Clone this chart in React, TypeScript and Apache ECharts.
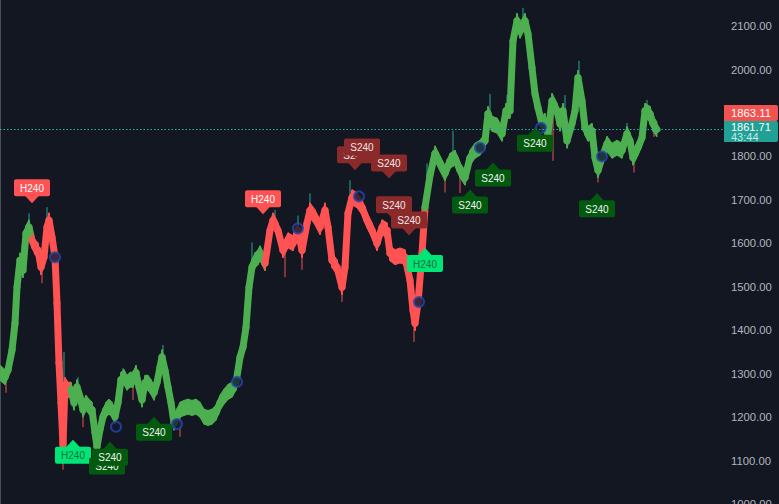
import React, { useEffect, useRef } from "react";
import * as echarts from "echarts";

// ---- data ----
const barIndex = [
  0, 5, 8, 12, 15, 17, 20, 23, 26, 29, 32, 35, 38, 41, 44, 47, 49, 52, 55, 57, 59, 61, 63, 65, 68, 71, 74, 77, 80, 83,
  86, 89, 92, 95, 97, 100, 103, 106, 109, 112, 115, 118, 121, 124, 127, 130, 133, 136, 139, 142, 145, 148, 151, 154,
  157, 160, 162, 165, 168, 171, 174, 177, 180, 184, 188, 192, 196, 200, 204, 208, 212, 216, 220, 224, 228, 232, 236,
  240, 243, 246, 249, 252, 255, 258, 260, 265, 270, 273, 278, 283, 288, 293, 298, 302, 307, 310, 315, 320, 325, 328,
  332, 337, 342, 345, 348, 352, 357, 362, 367, 372, 377, 382, 387, 390, 395, 400, 405, 410, 413, 415, 418, 422, 425,
  430, 435, 440, 445, 450, 455, 460, 465, 470, 475, 480, 485, 488, 492, 497, 502, 506, 510, 513, 517, 520, 525, 528,
  532, 535, 538, 542, 545, 548, 552, 557, 560, 563, 567, 572, 575, 578, 582, 585, 588, 592, 595, 598, 602, 607, 612,
  617, 622, 627, 630, 633, 638, 642, 645, 650, 653, 657,
];
const closes = [
  1302, 1292, 1308, 1354, 1416, 1499, 1561, 1538, 1623, 1637, 1607, 1591, 1584, 1545, 1568, 1637, 1653, 1614, 1568,
  1462, 1325, 1233, 1136, 1274, 1263, 1263, 1233, 1269, 1247, 1217, 1233, 1224, 1217, 1164, 1132, 1171, 1201, 1217,
  1224, 1217, 1201, 1233, 1286, 1292, 1279, 1286, 1286, 1302, 1269, 1240, 1279, 1279, 1269, 1256, 1279, 1315, 1338,
  1308, 1269, 1233, 1187, 1201, 1217, 1221, 1224, 1221, 1224, 1217, 1201, 1198, 1201, 1210, 1233, 1247, 1258, 1263,
  1279, 1338, 1361, 1407, 1499, 1545, 1561, 1568, 1577, 1554, 1630, 1653, 1630, 1584, 1607, 1600, 1630, 1584, 1646,
  1676, 1660, 1637, 1676, 1637, 1561, 1545, 1499, 1545, 1669, 1706, 1699, 1683, 1653, 1630, 1600, 1637, 1630, 1577,
  1568, 1572, 1568, 1515, 1446, 1416, 1462, 1577, 1683, 1756, 1807, 1784, 1761, 1790, 1797, 1768, 1751, 1797, 1813,
  1820, 1836, 1898, 1875, 1871, 1852, 1905, 1905, 2066, 2112, 2089, 2112, 2082, 2004, 1944, 1912, 1875, 1882, 1852,
  1928, 1905, 1875, 1905, 1836, 1875, 1905, 1981, 1928, 1866, 1852, 1859, 1797, 1768, 1797, 1829, 1813, 1820, 1813,
  1852, 1836, 1797, 1820, 1843, 1905, 1898, 1875, 1862,
];
// bar indices where the trend colour flips (starts green)
const trendBreaks = [31, 70, 263, 425];

// wicks: bar, from, to, direction (1 = up wick, 0 = down wick)
const wickBar = [
  22, 29, 47, 64, 78, 110, 123, 163, 188, 252, 275, 298, 310, 350, 427, 453, 490, 507, 523, 565, 579, 627, 647,
  6, 42, 63, 83, 133, 180, 210, 285, 302, 342, 414, 445, 460, 553, 598, 634, 654,
];
const wickFrom = [
  1550, 1637, 1637, 1263, 1263, 1217, 1290, 1331, 1224, 1545, 1653, 1630, 1676, 1688, 1722, 1795, 1887, 1905, 2107,
  1905, 1962, 1852, 1905,
  1292, 1550, 1136, 1217, 1279, 1217, 1201, 1584, 1584, 1499, 1428, 1761, 1764, 1917, 1768, 1802, 1875,
];
const wickTo = [
  1595, 1669, 1683, 1350, 1292, 1239, 1313, 1366, 1242, 1602, 1677, 1664, 1715, 1745, 1784, 1859, 1944, 1941, 2142,
  1941, 2020, 1877, 1930,
  1256, 1508, 1079, 1177, 1239, 1155, 1187, 1522, 1539, 1465, 1373, 1717, 1716, 1790, 1740, 1763, 1845,
];
const wickDir = [
  1, 1, 1, 1, 1, 1, 1, 1, 1, 1, 1, 1, 1, 1, 1, 1, 1, 1, 1, 1, 1, 1, 1,
  0, 0, 0, 0, 0, 0, 0, 0, 0, 0, 0, 0, 0, 0, 0, 0, 0,
];

// session circles
const pivotBar = [55, 116, 177, 237, 298, 359, 419, 480, 541, 602];
const pivotPrice = [1568, 1178, 1184, 1281, 1634, 1708, 1465, 1820, 1866, 1800];

// signal labels (tip position)
const signalBar = [32, 263, 355, 362, 389, 394, 409, 73, 107, 110, 154, 425, 470, 493, 535, 597];
const signalPrice = [1692, 1667, 1768, 1786, 1749, 1653, 1618, 1148, 1123, 1143, 1201, 1589, 1724, 1786, 1866, 1715];
const signalText = ["H240", "H240", "S240", "S240", "S240", "S240", "S240", "H240", "S240", "S240", "S240", "H240", "S240", "S240", "S240", "S240"];
const signalKind = ["hTop", "hTop", "sTop", "sTop", "sTop", "sTop", "sTop", "hBot", "sBot", "sBot", "sBot", "hBot", "sBot", "sBot", "sBot", "sBot"];

const lastPrice = 1861.71;
const refPrice = 1863.11;
const countdown = "43:44";
const yMin = 1000;
const yMax = 2160;
const yStep = 100;
const xMax = 724;

const UP = "#4caf50";
const DOWN = "#ff5252";
const BG = "#131722";

const kindStyle: Record<string, { fill: string; text: string; top: boolean }> = {
  hTop: { fill: "#ff5252", text: "#ffffff", top: true },
  sTop: { fill: "#8a2a2a", text: "#f3e6e6", top: true },
  hBot: { fill: "#00e676", text: "#1a6b40", top: false },
  sBot: { fill: "#035a0e", text: "#f0f5f0", top: false },
};

function trendColor(x: number) {
  let n = 0;
  for (const b of trendBreaks) if (x >= b) n++;
  return n % 2 === 0 ? UP : DOWN;
}

export default function App() {
  const ref = useRef<HTMLDivElement>(null);
  useEffect(() => {
    document.body.style.margin = "0";
    document.body.style.background = BG;
    const chart = echarts.init(ref.current!, null, { renderer: "svg" });
    const HALF = 7.5;
    const option: any = {
      animation: false,
      backgroundColor: BG,
      grid: { left: 0, right: 55, top: 0, bottom: 0, containLabel: false, outerBoundsMode: "none" },
      xAxis: { type: "value", min: 0, max: xMax, show: false },
      yAxis: {
        type: "value",
        position: "right",
        min: yMin,
        max: yMax,
        interval: yStep,
        axisLine: { show: true, lineStyle: { color: "#4a4e59", width: 1 } },
        axisTick: { show: false },
        splitLine: { show: false },
        axisLabel: {
          color: "#b2b5be",
          fontSize: 11.3,
          fontFamily: "Liberation Sans",
          margin: 7,
          showMaxLabel: false,
          formatter: (v: number) => v.toFixed(2),
        },
      },
      series: [
        {
          type: "custom",
          name: "wicks",
          z: 2,
          data: wickBar.map((b, i) => [b, wickFrom[i], wickTo[i], wickDir[i]]),
          encode: { x: 0, y: [1, 2] },
          renderItem: (_p: any, api: any) => {
            const a = api.coord([api.value(0), api.value(1)]);
            const b = api.coord([api.value(0), api.value(2)]);
            return {
              type: "line",
              shape: { x1: a[0], y1: a[1], x2: b[0], y2: b[1] },
              style: { stroke: api.value(3) === 1 ? "#26a69a" : "#ef5350", lineWidth: 1 },
            };
          },
        },
        {
          type: "custom",
          name: "price",
          z: 3,
          data: barIndex.map((b, i) => [b, closes[i]]),
          encode: { x: 0, y: 1 },
          renderItem: (params: any, api: any) => {
            const i = params.dataIndex;
            if (i === 0) return null;
            const p0 = api.coord([barIndex[i - 1], closes[i - 1]]);
            const p1 = api.coord([barIndex[i], closes[i]]);
            const color = trendColor((barIndex[i - 1] + barIndex[i]) / 2);
            return {
              type: "group",
              children: [
                {
                  type: "polygon",
                  shape: {
                    points: [
                      [p0[0], p0[1] - HALF],
                      [p1[0], p1[1] - HALF],
                      [p1[0], p1[1] + HALF],
                      [p0[0], p0[1] + HALF],
                    ],
                  },
                  style: { fill: color, stroke: color, lineWidth: 1 },
                },
                {
                  type: "line",
                  shape: { x1: p0[0], y1: p0[1], x2: p1[0], y2: p1[1] },
                  style: { stroke: color, lineWidth: 7, lineCap: "round" },
                },
              ],
            };
          },
        },
        {
          type: "scatter",
          name: "pivots",
          z: 4,
          symbol: "circle",
          symbolSize: 10,
          itemStyle: { color: "#111a33", borderColor: "#2846ad", borderWidth: 2 },
          data: pivotBar.map((b, i) => [b, pivotPrice[i]]),
          markLine: {
            silent: true,
            symbol: ["none", "none"],
            label: { show: false },
            lineStyle: { type: [1.5, 2], color: "#2bb3a5", width: 1.2 },
            data: [{ yAxis: lastPrice }],
          },
        },
        {
          type: "custom",
          name: "signals",
          z: 5,
          data: signalBar.map((b, i) => [b, signalPrice[i]]),
          encode: { x: 0, y: 1 },
          renderItem: (params: any, api: any) => {
            const i = params.dataIndex;
            const [tx, ty] = api.coord([signalBar[i], signalPrice[i]]);
            const st = kindStyle[signalKind[i]];
            const w = 36;
            const h = 17;
            const t = 7;
            const boxY = st.top ? ty - t - h : ty + t;
            const baseY = st.top ? ty - t - 0.5 : ty + t + 0.5;
            return {
              type: "group",
              children: [
                {
                  type: "polygon",
                  shape: { points: [[tx - 7, baseY], [tx + 7, baseY], [tx, ty]] },
                  style: { fill: st.fill },
                },
                {
                  type: "rect",
                  shape: { x: tx - w / 2, y: boxY, width: w, height: h, r: 2 },
                  style: { fill: st.fill },
                },
                {
                  type: "text",
                  style: {
                    x: tx,
                    y: boxY + h / 2 + 0.5,
                    text: signalText[i],
                    fill: st.text,
                    fontSize: 10,
                    fontFamily: "Liberation Sans",
                    align: "center",
                    verticalAlign: "middle",
                  },
                },
              ],
            };
          },
        },
      ],
    };
    chart.setOption(option);
    const py = chart.convertToPixel({ yAxisIndex: 0 } as any, lastPrice) as number;
    const tealTop = Math.round(py) - 9;
    const tealH = 21;
    const redH = 16;
    const boxX = 724;
    const boxW = 54;
    chart.setOption({
      graphic: [
        {
          type: "rect",
          shape: { x: boxX, y: tealTop - redH, width: boxW, height: redH, r: [0, 2, 2, 0] },
          style: { fill: "#f05350" },
          z: 10,
        },
        {
          type: "text",
          style: {
            x: 731,
            y: tealTop - redH / 2,
            text: refPrice.toFixed(2),
            fill: "#ffffff",
            fontSize: 11.3,
            fontFamily: "Liberation Sans",
            verticalAlign: "middle",
          },
          z: 11,
        },
        {
          type: "rect",
          shape: { x: boxX, y: tealTop, width: boxW, height: tealH, r: [0, 2, 2, 0] },
          style: { fill: "#22a095" },
          z: 10,
        },
        {
          type: "text",
          style: {
            x: 731,
            y: tealTop + 1,
            text: "{a|" + lastPrice.toFixed(2) + "}\n{b|" + countdown + "}",
            fontFamily: "Liberation Sans",
            verticalAlign: "top",
            rich: {
              a: { fill: "#ffffff", fontSize: 11, lineHeight: 10, fontFamily: "Liberation Sans" },
              b: { fill: "#c8ece8", fontSize: 11, lineHeight: 10, fontFamily: "Liberation Sans" },
            },
          },
          z: 11,
        },
      ],
    });
    return () => chart.dispose();
  }, []);
  return <div ref={ref} style={{ width: 779, height: 504, position: "absolute", left: 0, top: 0 }} />;
}
